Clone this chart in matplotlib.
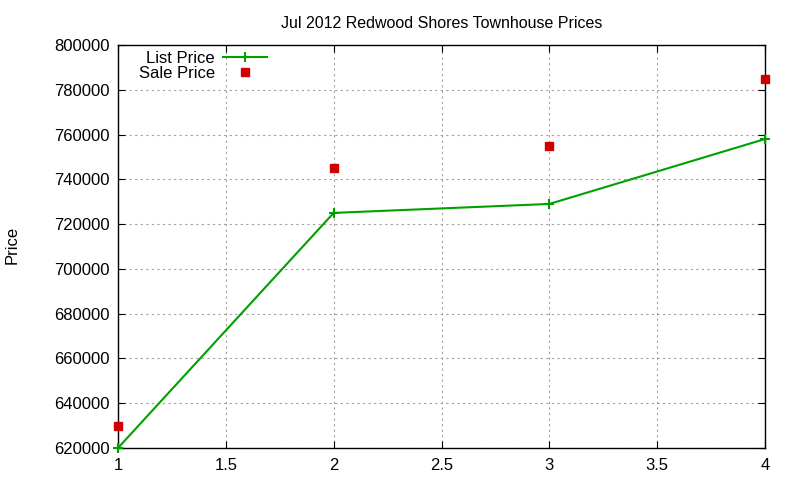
import matplotlib
matplotlib.use('Agg')
import matplotlib.pyplot as plt

plt.rcParams['font.family'] = ['Liberation Sans', 'DejaVu Sans']

months = [1, 2, 3, 4]
list_price = [620000, 725000, 729000, 758000]
sale_price = [630000, 745000, 755000, 785000]

fig = plt.figure(figsize=(8, 4.8), dpi=100)
ax = fig.add_axes([0.1475, 0.0667, 0.8088, 0.8396])

ax.plot(months, list_price, color='#00a000', lw=1.5, marker='+', ms=7, mew=1.5,
        label='List Price', clip_on=False, zorder=3)
ax.plot(months, sale_price, ls='none', marker='s', ms=6, color='#d00000',
        label='Sale Price', clip_on=False, zorder=3)

ax.set_xlim(1, 4)
ax.set_ylim(620000, 800000)
ax.set_xticks([1, 1.5, 2, 2.5, 3, 3.5, 4])
ax.set_xticklabels(['1', '1.5', '2', '2.5', '3', '3.5', '4'])
ax.set_yticks(range(620000, 800001, 20000))
ax.tick_params(direction='in', top=True, right=True, labelsize=12, length=5)
ax.tick_params(axis='x', pad=7)
ax.tick_params(axis='y', pad=6)
ax.grid(True, color='#a0a0a0', ls=(0, (2, 3)), lw=0.8)
for s in ax.spines.values():
    s.set_linewidth(1)

ax.set_title('Jul 2012 Redwood Shores Townhouse Prices', fontsize=11.5, pad=12)
fig.text(0.015, 0.49, 'Price', rotation=90, fontsize=12, ha='center', va='center')

leg = ax.legend(loc='upper left', bbox_to_anchor=(0.014, 1.015), frameon=False, markerfirst=False,
                fontsize=12, handlelength=2.6, handletextpad=0.5, borderpad=0.2, labelspacing=0.0)

fig.savefig('out.png')
